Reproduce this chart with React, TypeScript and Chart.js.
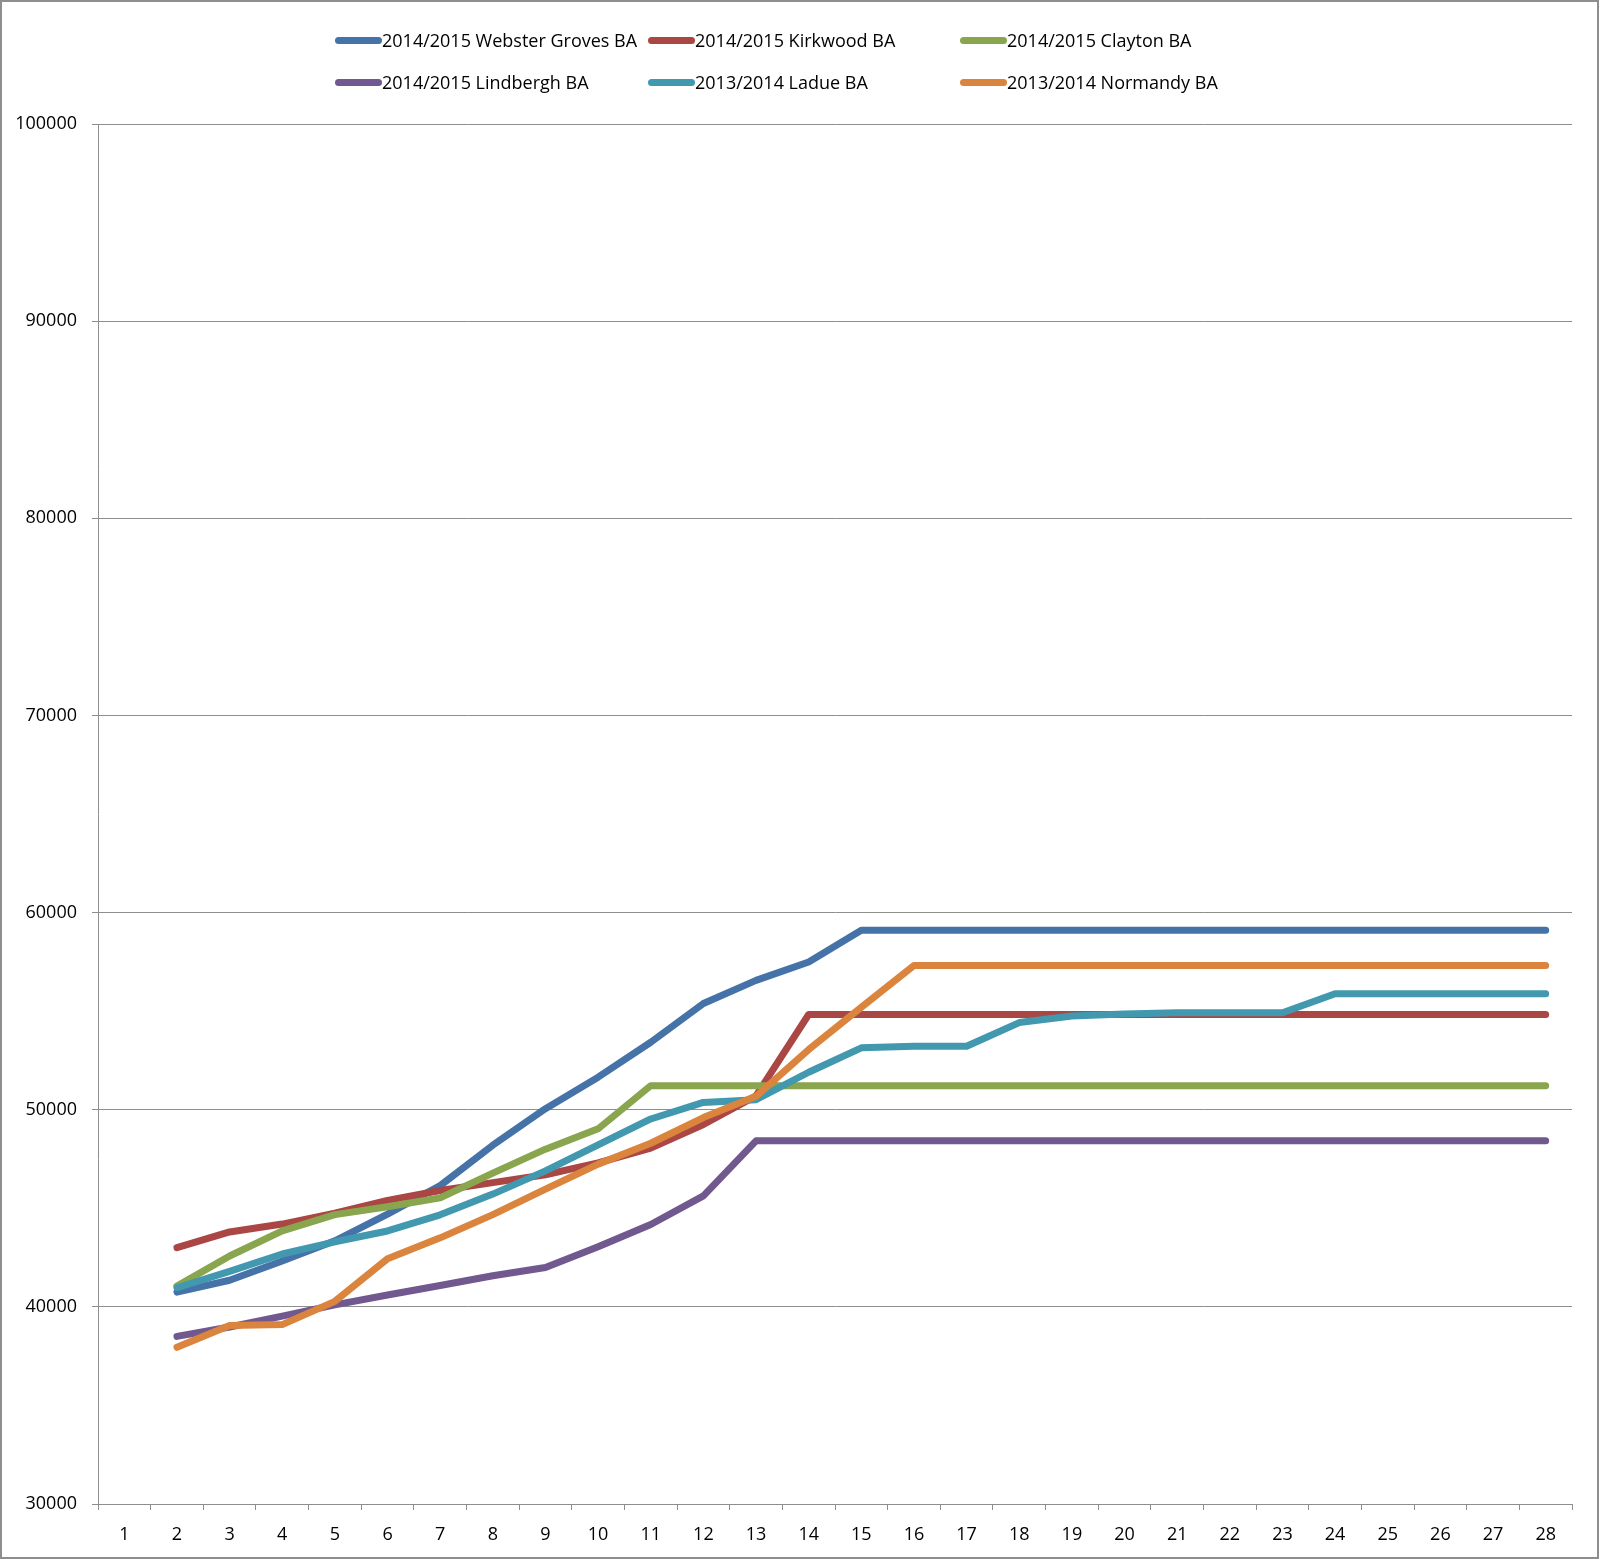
import { useEffect, useRef } from 'react';
import { Chart, registerables } from 'chart.js';

Chart.register(...registerables);

const categories = [
  '1', '2', '3', '4', '5', '6', '7', '8', '9', '10', '11', '12', '13', '14',
  '15', '16', '17', '18', '19', '20', '21', '22', '23', '24', '25', '26', '27', '28',
];

const seriesNames = [
  '2014/2015 Webster Groves BA',
  '2014/2015 Kirkwood BA',
  '2014/2015 Clayton BA',
  '2014/2015 Lindbergh BA',
  '2013/2014 Ladue BA',
  '2013/2014 Normandy BA',
];

const seriesColors = ['#4572A7', '#AA4643', '#89A54E', '#71588F', '#4198AF', '#DB843D'];

const webster = [
  null, 40750, 41350, 42330, 43350, 44700, 46150, 48200, 50050, 51650, 53420, 55390, 56560, 57490,
  59100, 59100, 59100, 59100, 59100, 59100, 59100, 59100, 59100, 59100, 59100, 59100, 59100, 59100,
];
const kirkwood = [
  null, 43000, 43800, 44200, 44750, 45400, 45900, 46300, 46700, 47300, 48050, 49250, 50700, 54830,
  54830, 54830, 54830, 54830, 54830, 54830, 54830, 54830, 54830, 54830, 54830, 54830, 54830, 54830,
];
const clayton = [
  null, 41050, 42580, 43850, 44680, 45080, 45530, 46780, 48000, 49030, 51220, 51220, 51220, 51220,
  51220, 51220, 51220, 51220, 51220, 51220, 51220, 51220, 51220, 51220, 51220, 51220, 51220, 51220,
];
const lindbergh = [
  null, 38500, 38980, 39530, 40100, 40600, 41080, 41580, 42000, 43050, 44180, 45630, 48420, 48420,
  48420, 48420, 48420, 48420, 48420, 48420, 48420, 48420, 48420, 48420, 48420, 48420, 48420, 48420,
];
const ladue = [
  null, 40970, 41800, 42680, 43300, 43850, 44670, 45720, 46900, 48220, 49530, 50370, 50510, 51900,
  53140, 53220, 53220, 54420, 54750, 54860, 54920, 54920, 54920, 55880, 55880, 55880, 55880, 55880,
];
const normandy = [
  null, 37950, 39050, 39100, 40280, 42440, 43500, 44680, 45970, 47240, 48300, 49600, 50680, 53050,
  55200, 57320, 57320, 57320, 57320, 57320, 57320, 57320, 57320, 57320, 57320, 57320, 57320, 57320,
];

const seriesValues = [webster, kirkwood, clayton, lindbergh, ladue, normandy];

const FONT = "'Open Sans', sans-serif";
const GRID = '#8e8e8e';

// legend is laid out in Excel's fixed columns
const legendCols = [335, 648, 960];
const legendRows = [40, 82];

export default function App() {
  const canvasRef = useRef<HTMLCanvasElement>(null);

  useEffect(() => {
    const ctx = canvasRef.current?.getContext('2d');
    if (!ctx) return;

    const chart = new Chart(ctx, {
      type: 'line',
      data: {
        labels: categories,
        datasets: seriesValues.map((values, i) => ({
          label: seriesNames[i],
          data: values,
          borderColor: seriesColors[i],
          backgroundColor: seriesColors[i],
          borderWidth: 7,
          borderCapStyle: 'round' as const,
          borderJoinStyle: 'round' as const,
          pointRadius: 0,
          tension: 0,
          fill: false,
          order: seriesValues.length - i,
        })),
      },
      options: {
        responsive: true,
        maintainAspectRatio: false,
        animation: false,
        layout: { padding: { top: 124, right: 28, bottom: 0, left: 0 } },
        plugins: {
          legend: { display: false },
          tooltip: { enabled: false },
        },
        scales: {
          x: {
            offset: true,
            grid: {
              offset: true,
              drawOnChartArea: false,
              drawTicks: true,
              tickLength: 6,
              color: GRID,
              lineWidth: 1,
            },
            border: { display: true, color: GRID, width: 1 },
            ticks: {
              color: '#000',
              padding: 14,
              maxRotation: 0,
              autoSkip: false,
              font: { family: FONT, size: 18 },
            },
            afterFit: (scale) => {
              scale.height = 55;
            },
          },
          y: {
            min: 30000,
            max: 100000,
            grid: {
              color: GRID,
              lineWidth: 1,
              drawTicks: true,
              tickLength: 6,
            },
            border: { display: true, color: GRID, width: 1 },
            ticks: {
              stepSize: 10000,
              color: '#000',
              padding: 15,
              font: { family: FONT, size: 18 },
              callback: (v) => String(v),
            },
            afterFit: (scale) => {
              scale.width = 98;
            },
          },
        },
      },
    });

    return () => chart.destroy();
  }, []);

  return (
    <div style={{ position: 'absolute', left: 0, top: 0, width: 1600, height: 1559, background: '#fff' }}>
      <canvas ref={canvasRef} />
      <div
        style={{
          position: 'absolute',
          left: 0,
          top: 0,
          width: 1599,
          height: 1559,
          boxSizing: 'border-box',
          border: `2px solid ${GRID}`,
          pointerEvents: 'none',
        }}
      />
      {seriesNames.map((name, i) => (
        <div
          key={name}
          style={{
            position: 'absolute',
            left: legendCols[i % 3],
            top: legendRows[Math.floor(i / 3)] - 12,
            height: 24,
            display: 'flex',
            alignItems: 'center',
            fontFamily: FONT,
            fontSize: 18,
            color: '#000',
            whiteSpace: 'nowrap',
          }}
        >
          <span
            style={{
              display: 'inline-block',
              width: 47,
              height: 7,
              borderRadius: 4,
              background: seriesColors[i],
            }}
          />
          <span>{name}</span>
        </div>
      ))}
    </div>
  );
}
